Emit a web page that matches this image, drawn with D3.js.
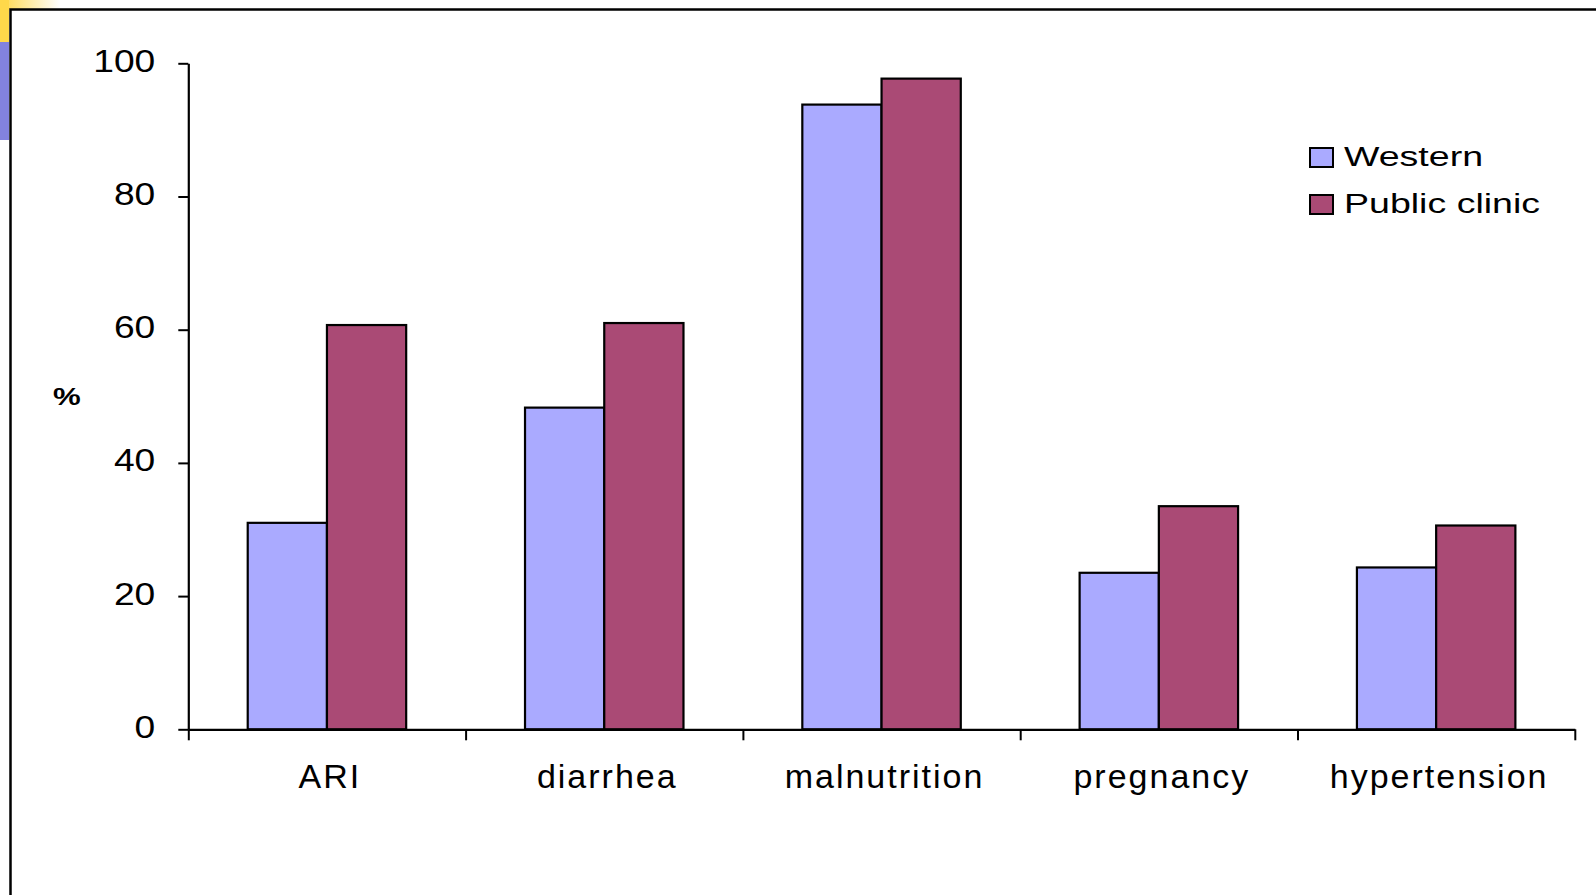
<!DOCTYPE html>
<html>
<head>
<meta charset="utf-8">
<script src="https://cdn.jsdelivr.net/npm/d3@7"></script>
<style>
  html, body { margin: 0; padding: 0; background: #fff; }
  svg { display: block; }
  text { font-family: Arial, "Liberation Sans", sans-serif; fill: #000; }
</style>
</head>
<body>
<svg id="chart" width="1596" height="895"></svg>
<script>
// Share of cases by condition and type of care (%)
const categories = ["ARI", "diarrhea", "malnutrition", "pregnancy", "hypertension"];
const seriesNames = ["Western", "Public clinic"];
const westernValues = [31.0, 48.3, 93.8, 23.5, 24.3];
const publicClinicValues = [60.7, 61.0, 97.7, 33.5, 30.6];
const yTickValues = [0, 20, 40, 60, 80, 100];
const seriesColors = ["#AAAAFF", "#AA4A75"];

const svg = d3.select("#chart");

// slide decoration in the top-left corner
const defs = svg.append("defs");
const grad = defs.append("linearGradient").attr("id", "cornerFade")
  .attr("x1", "0%").attr("x2", "100%").attr("y1", "0%").attr("y2", "0%");
grad.append("stop").attr("offset", "0%").attr("stop-color", "#FFD84A");
grad.append("stop").attr("offset", "100%").attr("stop-color", "#FFFFFF");
svg.append("rect").attr("x", 0).attr("y", 0).attr("width", 60).attr("height", 9).attr("fill", "url(#cornerFade)");
svg.append("rect").attr("x", 0).attr("y", 0).attr("width", 9).attr("height", 42).attr("fill", "#FFD84A");
svg.append("rect").attr("x", 0).attr("y", 42).attr("width", 9).attr("height", 98).attr("fill", "#8282DE");

// chart frame (runs off the right and bottom edges)
svg.append("rect").attr("x", 10.5).attr("y", 9.5).attr("width", 1700).attr("height", 1000)
  .attr("fill", "#fff").attr("stroke", "#000").attr("stroke-width", 2.5);

const plotLeft = 188.3, plotRight = 1574.8, plotTop = 63.3, plotBottom = 729.3;

const x0 = d3.scaleBand().domain(categories).range([plotLeft, plotRight]).paddingInner(0).paddingOuter(0);
const x1 = d3.scaleBand().domain(seriesNames).range([0, x0.bandwidth()]).paddingInner(0).paddingOuter(0.75);
const y = d3.scaleLinear().domain([0, 100]).range([plotBottom, plotTop]);
const color = d3.scaleOrdinal().domain(seriesNames).range(seriesColors);

const rows = categories.map((c, i) => ({
  category: c,
  values: [
    { series: seriesNames[0], value: westernValues[i] },
    { series: seriesNames[1], value: publicClinicValues[i] }
  ]
}));

// bars
const groups = svg.append("g").selectAll("g").data(rows).join("g")
  .attr("transform", d => `translate(${x0(d.category)},0)`);
groups.selectAll("rect").data(d => d.values).join("rect")
  .attr("x", d => x1(d.series))
  .attr("y", d => y(d.value))
  .attr("width", x1.bandwidth())
  .attr("height", d => y(0) - y(d.value))
  .attr("fill", d => color(d.series))
  .attr("stroke", "#000")
  .attr("stroke-width", 2.2);

// y axis
const yAxis = svg.append("g").attr("transform", `translate(${plotLeft},0)`)
  .call(d3.axisLeft(y).tickValues(yTickValues).tickSize(10).tickSizeOuter(0).tickPadding(23));
yAxis.select(".domain").attr("stroke-width", 2.2);
yAxis.selectAll(".tick line").attr("stroke-width", 2);
yAxis.selectAll(".tick text")
  .attr("font-size", 31)
  .attr("font-family", "Arial, 'Liberation Sans', sans-serif")
  .attr("dy", "0.26em")
  .each(function () {
    const t = d3.select(this);
    const xx = +t.attr("x");
    t.attr("x", null).attr("transform", `translate(${xx},0) scale(1.2,1)`);
  });

// x axis: boundary ticks between categories
const xb = d3.scaleLinear().domain([0, categories.length]).range([plotLeft, plotRight]);
const xAxis = svg.append("g").attr("transform", `translate(0,${plotBottom})`)
  .call(d3.axisBottom(xb).tickValues(d3.range(categories.length + 1)).tickFormat("").tickSize(11).tickSizeOuter(0));
xAxis.select(".domain").attr("stroke-width", 2.2);
xAxis.selectAll(".tick line").attr("stroke-width", 2);

// category labels
const xLabels = svg.append("g").attr("transform", `translate(0,${plotBottom})`)
  .call(d3.axisBottom(x0).tickSize(0).tickPadding(34.6));
xLabels.select(".domain").remove();
xLabels.selectAll(".tick text")
  .attr("font-size", 34)
  .attr("font-family", "Arial, 'Liberation Sans', sans-serif")
  .attr("letter-spacing", "2px")
  .attr("dx", 3);

// y axis title
svg.append("text")
  .attr("transform", "translate(53,405) scale(1.3,1)")
  .attr("font-size", 24).attr("font-weight", "bold")
  .text("%");

// legend
const legend = svg.append("g").selectAll("g").data(seriesNames).join("g")
  .attr("transform", (d, i) => `translate(1310,${148 + i * 47})`);
legend.append("rect")
  .attr("x", 0).attr("y", 0).attr("width", 23).attr("height", 19)
  .attr("fill", d => color(d)).attr("stroke", "#000").attr("stroke-width", 2);
legend.append("text")
  .attr("transform", "translate(34,18) scale(1.39,1)")
  .attr("font-size", 27)
  .text(d => d);
</script>
</body>
</html>
